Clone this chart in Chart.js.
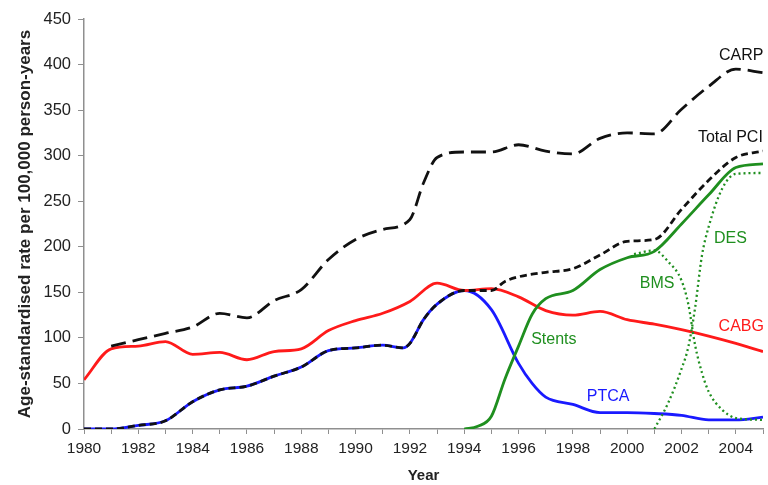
<!DOCTYPE html>
<html>
<head>
<meta charset="utf-8">
<script src="https://cdn.jsdelivr.net/npm/chart.js@4.4.1/dist/chart.umd.min.js"></script>
<style>
  body { margin: 0; background: #fff; }
</style>
</head>
<body>
<canvas id="grafico" width="768" height="485"></canvas>
<script>
// Datos (tasas por 100,000 personas-año)
const aniosCARP = [1981, 1982, 1983, 1984, 1985, 1986, 1987, 1988, 1989, 1990, 1991, 1992, 1992.5, 1993, 1994, 1995, 1996, 1997, 1998, 1999, 2000, 2001, 2002, 2003, 2004, 2005];
const valoresCARP = [91, 98, 105, 112, 127, 122, 141, 153, 186, 208, 219, 230, 270, 298, 304, 304, 312, 305, 302, 319, 325, 324, 351, 376, 395, 391];

const aniosTotalPCI = [1980, 1981, 1982, 1983, 1984, 1985, 1986, 1987, 1988, 1989, 1990, 1991, 1991.75, 1992, 1992.5, 1993, 1994, 1995, 1995.5, 1996, 1997, 1998, 1999, 2000, 2001, 2002, 2003, 2004, 2005];
const valoresTotalPCI = [0, 0, 4, 9, 30, 43, 47, 58, 68, 86, 89, 92, 89, 94, 120, 137, 152, 152, 162, 167, 172, 176, 191, 206, 208, 241, 273, 298, 305];

const aniosCABG = [1980, 1981, 1982, 1983, 1984, 1985, 1986, 1987, 1988, 1989, 1990, 1991, 1992, 1993, 1994, 1995, 1996, 1997, 1998, 1999, 2000, 2001, 2002, 2003, 2004, 2005];
const valoresCABG = [54, 88, 91, 96, 82, 84, 76, 85, 88, 108, 119, 127, 140, 160, 152, 154, 145, 130, 125, 129, 120, 115, 109, 102, 94, 85];

const aniosPTCA = [1980, 1981, 1982, 1983, 1984, 1985, 1986, 1987, 1988, 1989, 1990, 1991, 1991.75, 1992, 1992.5, 1993, 1994, 1995, 1996, 1996.5, 1997, 1998, 1999, 2000, 2001, 2002, 2003, 2004, 2005];
const valoresPTCA = [0, 0, 4, 9, 30, 43, 47, 58, 68, 86, 89, 92, 89, 94, 120, 137, 152, 131, 72, 50, 35, 27, 18, 18, 17, 15, 10, 10, 13];

const aniosStents = [1994, 1994.5, 1995, 1995.5, 1996, 1996.5, 1997, 1998, 1999, 2000, 2001, 2002, 2003, 2004, 2005];
const valoresStents = [0, 3, 14, 55, 91, 126, 143, 152, 175, 188, 195, 225, 257, 287, 291];

const aniosBMS = [2000.25, 2001, 2001.5, 2002, 2002.25, 2002.5, 2002.75, 2003, 2003.5, 2004, 2005];
const valoresBMS = [192, 196, 184, 163, 137, 92, 62, 41, 21, 12, 10];

const aniosDES = [2001, 2001.5, 2002, 2002.25, 2002.5, 2002.75, 2003, 2003.5, 2004, 2005];
const valoresDES = [0, 28, 66, 90, 133, 190, 222, 264, 280, 281];

// Colores
const ROJO = "#ff1a1a";
const AZUL = "#1a1aff";
const VERDE = "#1f8f1f";
const NEGRO = "#111111";
const GRIS = "#8f8f8f";
const FUENTE = "'Liberation Sans', Arial, sans-serif";

// Etiquetas dentro del área (coordenadas en unidades de datos)
const etiquetas = [
  { texto: "CARP", x: 2004.2, y: 410, color: NEGRO },
  { texto: "Total PCI", x: 2003.8, y: 320, color: NEGRO },
  { texto: "DES", x: 2003.8, y: 209, color: VERDE },
  { texto: "BMS", x: 2001.1, y: 160, color: VERDE },
  { texto: "CABG", x: 2004.2, y: 112, color: ROJO },
  { texto: "Stents", x: 1997.3, y: 98, color: VERDE },
  { texto: "PTCA", x: 1999.3, y: 36, color: AZUL }
];

// Convertir pares de arreglos a puntos {x, y}
function puntos(anios, valores) {
  return anios.map((a, i) => ({ x: a, y: valores[i] }));
}

function serie(nombre, anios, valores, color, ancho, guiones) {
  return {
    label: nombre,
    data: puntos(anios, valores),
    borderColor: color,
    backgroundColor: color,
    borderWidth: ancho,
    borderDash: guiones,
    pointRadius: 0,
    fill: false,
    cubicInterpolationMode: "monotone"
  };
}

// Plugin para dibujar las etiquetas de cada serie
const pluginEtiquetas = {
  id: "etiquetas",
  afterDatasetsDraw(chart) {
    const ctx = chart.ctx;
    const escalaX = chart.scales.x;
    const escalaY = chart.scales.y;
    ctx.save();
    ctx.font = "16px " + FUENTE;
    ctx.textAlign = "center";
    ctx.textBaseline = "middle";
    etiquetas.forEach(e => {
      ctx.fillStyle = e.color;
      ctx.fillText(e.texto, escalaX.getPixelForValue(e.x), escalaY.getPixelForValue(e.y));
    });
    ctx.restore();
  }
};

new Chart(document.getElementById("grafico"), {
  type: "line",
  data: {
    datasets: [
      serie("Total PCI", aniosTotalPCI, valoresTotalPCI, NEGRO, 2.8, [7, 4]),
      serie("CARP", aniosCARP, valoresCARP, NEGRO, 2.8, [15, 7]),
      serie("Stents", aniosStents, valoresStents, VERDE, 2.8, []),
      serie("BMS", aniosBMS, valoresBMS, VERDE, 2.3, [2, 3]),
      serie("DES", aniosDES, valoresDES, VERDE, 2.3, [2, 3]),
      serie("CABG", aniosCABG, valoresCABG, ROJO, 2.8, []),
      serie("PTCA", aniosPTCA, valoresPTCA, AZUL, 2.8, [])
    ]
  },
  options: {
    responsive: false,
    devicePixelRatio: 1,
    animation: false,
    layout: { padding: { top: 19, right: 2, left: 0, bottom: 0 } },
    plugins: {
      legend: { display: false },
      tooltip: { enabled: false }
    },
    scales: {
      x: {
        type: "linear",
        min: 1980,
        max: 2005,
        afterFit: escala => { escala.height = 56; },
        ticks: {
          stepSize: 1,
          autoSkip: false,
          maxRotation: 0,
          padding: 5,
          color: "#222",
          font: { family: FUENTE, size: 15.5 },
          callback: valor => (valor % 2 === 0 ? String(valor) : "")
        },
        grid: { drawOnChartArea: false, drawTicks: true, tickLength: 5, color: GRIS },
        border: { color: GRIS, width: 1.5 },
        title: {
          display: true,
          text: "Year",
          color: "#222",
          padding: { top: 0, bottom: 0 },
          font: { family: FUENTE, size: 15, weight: "bold" }
        }
      },
      y: {
        min: 0,
        max: 450,
        afterFit: escala => { escala.width = 84; },
        ticks: {
          stepSize: 25,
          padding: 7,
          color: "#222",
          font: { family: FUENTE, size: 16.5 },
          callback: valor => (valor % 50 === 0 ? String(valor) : "")
        },
        grid: { drawOnChartArea: false, drawTicks: true, tickLength: 6, color: GRIS },
        border: { color: GRIS, width: 1.5 },
        title: {
          display: true,
          text: "Age-standardised rate per 100,000 person-years",
          color: "#222",
          padding: { top: 15, bottom: 0 },
          font: { family: FUENTE, size: 17, weight: "bold" }
        }
      }
    }
  },
  plugins: [pluginEtiquetas]
});
</script>
</body>
</html>
